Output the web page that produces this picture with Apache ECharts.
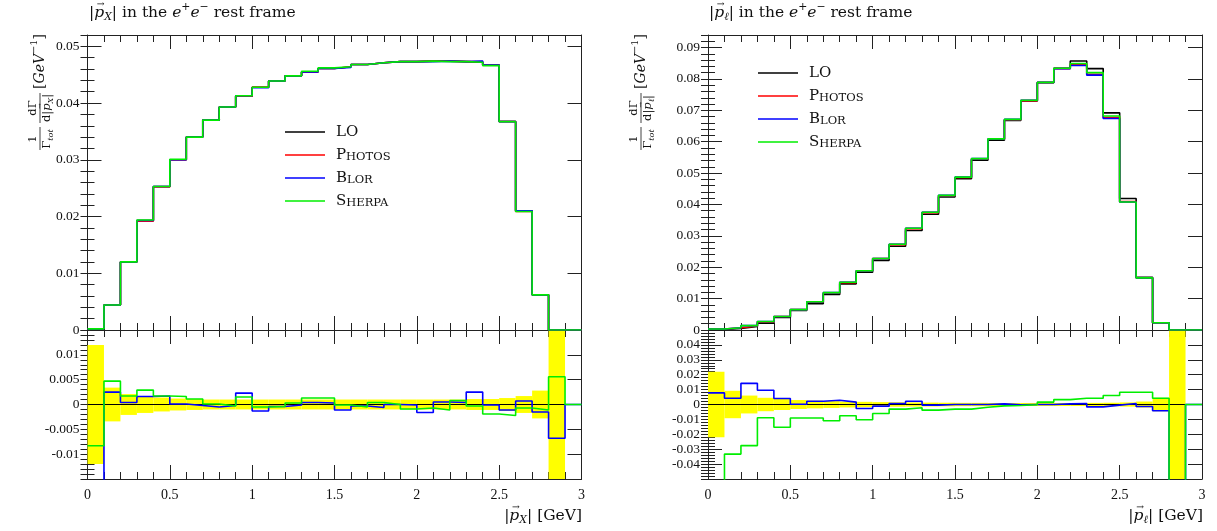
<!DOCTYPE html>
<html>
<head>
<meta charset="utf-8">
<script src="https://cdn.jsdelivr.net/npm/echarts@6/dist/echarts.min.js"></script>
<style>html,body{margin:0;padding:0;background:#fff}#c{width:1217px;height:531px}</style>
</head>
<body>
<div id="c"></div>
<script>
// ---- DATA ----
const edges = [0,0.1,0.2,0.3,0.4,0.5,0.6,0.7,0.8,0.9,1.0,1.1,1.2,1.3,1.4,1.5,1.6,1.7,1.8,1.9,2.0,2.1,2.2,2.3,2.4,2.5,2.6,2.7,2.8,2.9,3.0];
const seriesNames = ['LO','PHOTOS','BLOR','SHERPA'];
const xTicks = [0,0.5,1,1.5,2,2.5,3];

// left: |p_X| distribution
const pxLO     = [0.0002,0.0044,0.0120,0.0193,0.0253,0.0300,0.0340,0.0370,0.0393,0.0412,0.0428,0.0439,0.0448,0.0455,0.0461,0.0464,0.0468,0.0471,0.0473,0.0473,0.0474,0.0474,0.0473,0.0472,0.0467,0.0368,0.0210,0.0062,0,0];
const pxPHOTOS = [0.0002,0.0044,0.0120,0.0192,0.0252,0.0300,0.0340,0.0370,0.0393,0.0412,0.0428,0.0439,0.0448,0.0455,0.0461,0.0464,0.0468,0.0471,0.0473,0.0473,0.0474,0.0474,0.0473,0.0473,0.0467,0.0367,0.0209,0.0062,0,0];
const pxBLOR   = [0.0002,0.0044,0.0120,0.0193,0.0253,0.0300,0.0340,0.0370,0.0393,0.0413,0.0427,0.0439,0.0448,0.0455,0.0461,0.0463,0.0468,0.0471,0.0473,0.0473,0.0473,0.0474,0.0473,0.0474,0.0467,0.0367,0.0210,0.0062,0,0];
const pxSHERPA = [0.0002,0.0044,0.0120,0.0194,0.0253,0.0301,0.0340,0.0370,0.0393,0.0413,0.0428,0.0439,0.0448,0.0456,0.0462,0.0464,0.0468,0.0471,0.0473,0.0473,0.0474,0.0473,0.0473,0.0472,0.0466,0.0367,0.0209,0.0062,0,0];
// left ratio panel
const rxBand   = [0.0120,0.0034,0.0021,0.0017,0.0014,0.0012,0.0011,0.0010,0.0010,0.0010,0.0010,0.0010,0.0010,0.0010,0.0010,0.0010,0.0010,0.0010,0.0010,0.0010,0.0010,0.0010,0.0010,0.0011,0.0011,0.0013,0.0017,0.0028,0.0300,0];
const rxLO     = [0,0,0,0,0,0,0,0,0,0,0,0,0,0,0,0,0,0,0,0,0,0,0,0,0,0,0,0,0,0];
const rxBLOR   = [-0.0300,0.0025,0.0004,0.0016,0.0017,0.0001,-0.0002,-0.0005,-0.0002,0.0023,-0.0013,-0.0004,-0.0001,0.0004,0.0003,-0.0011,-0.0003,-0.0006,0,-0.0001,-0.0016,0.0005,0.0004,0.0025,-0.0001,-0.0011,0.0007,-0.0015,-0.0068,0];
const rxSHERPA = [-0.0083,0.0047,0.0017,0.0029,0.0017,0.0016,0.0011,0.0001,-0.0003,0.0015,-0.0005,-0.0004,0.0003,0.0013,0.0013,-0.0001,-0.0005,0.0004,0,-0.0009,-0.0007,-0.0011,0.0008,-0.0003,-0.0019,-0.0022,-0.0007,-0.0011,0.0056,0];

// right: |p_l| distribution
const plLO     = [0.0002,0.0005,0.0011,0.0022,0.0040,0.0062,0.0084,0.0113,0.0147,0.0184,0.0222,0.0267,0.0317,0.0369,0.0424,0.0482,0.0541,0.0605,0.0668,0.0730,0.0788,0.0834,0.0857,0.0833,0.0692,0.0419,0.0168,0.0023,0,0];
const plPHOTOS = [0.0003,0.0007,0.0013,0.0026,0.0043,0.0065,0.0089,0.0118,0.0151,0.0189,0.0228,0.0272,0.0323,0.0374,0.0428,0.0486,0.0545,0.0608,0.0670,0.0731,0.0789,0.0833,0.0845,0.0815,0.0677,0.0409,0.0166,0.0023,0,0];
const plBLOR   = [0.0003,0.0007,0.0014,0.0027,0.0043,0.0065,0.0090,0.0119,0.0152,0.0189,0.0228,0.0273,0.0324,0.0375,0.0429,0.0487,0.0546,0.0609,0.0671,0.0732,0.0789,0.0833,0.0843,0.0812,0.0674,0.0408,0.0166,0.0023,0,0];
const plSHERPA = [0.0003,0.0007,0.0014,0.0027,0.0043,0.0065,0.0090,0.0119,0.0152,0.0189,0.0228,0.0273,0.0324,0.0375,0.0429,0.0487,0.0546,0.0609,0.0671,0.0732,0.0789,0.0834,0.0849,0.0820,0.0682,0.0408,0.0166,0.0023,0,0];
// right ratio panel
const rlBand   = [0.0220,0.0092,0.0060,0.0045,0.0037,0.0030,0.0026,0.0023,0.0020,0.0018,0.0016,0.0015,0.0014,0.0013,0.0012,0.0011,0.0011,0.0010,0.0010,0.0010,0.0010,0.0010,0.0010,0.0011,0.0012,0.0014,0.0020,0.0045,0.1000,0];
const rlLO     = [0,0,0,0,0,0,0,0,0,0,0,0,0,0,0,0,0,0,0,0,0,0,0,0,0,0,0,0,0,0];
const rlBLOR   = [0.0078,0.0042,0.0142,0.0096,0.0040,0.0002,0.0022,0.0029,0.0016,-0.0027,-0.0011,0.0007,0.0022,-0.0004,0,0,0,0.0004,-0.0002,0,0,0.0004,0.0007,-0.0016,-0.0004,0.0007,-0.0013,-0.0042,-0.1000,0];
const rlSHERPA = [-0.0800,-0.0333,-0.0276,-0.0089,-0.0153,-0.0091,-0.0091,-0.0109,-0.0076,-0.0102,-0.0060,-0.0031,-0.0022,-0.0038,-0.0031,-0.0031,-0.0018,-0.0009,-0.0007,-0.0002,0.0016,0.0033,0.0042,0.0042,0.0060,0.0082,0.0082,0.0042,-0.1000,0];

// ---- CHART ----
const FN = '"Liberation Serif", "DejaVu Serif", serif';
const FT = '"DejaVu Serif", "Liberation Serif", serif';
const TXT = '#111';
const AX = '#222';
const colors = {LO:'#000000', PHOTOS:'#ff0000', BLOR:'#0000ff', SHERPA:'#00ee00'};

const grids = [
  {left: 87.5, top: 35,  width: 494, height: 295},
  {left: 87.5, top: 330, width: 494, height: 149},
  {left: 708,  top: 35,  width: 494, height: 295},
  {left: 708,  top: 330, width: 494, height: 149}
];
const yCfg = [
  {min: 0, max: 0.052, major: 0.01, minor: 0.002},
  {min: -0.015, max: 0.015, major: 0.005, minor: 0.001},
  {min: 0, max: 0.094, major: 0.01, minor: 0.002},
  {min: -0.05, max: 0.05, major: 0.01, minor: 0.002}
];
const xAxes = [], yAxes = [];
grids.forEach((g, gi) => {
  const ratio = gi % 2 === 1;
  ['bottom','top'].forEach(pos => {
    xAxes.push({
      type: 'value', gridIndex: gi, position: pos, min: 0, max: 3, interval: 0.5,
      axisLine: {show: true, onZero: false, lineStyle: {color: AX, width: 1}},
      axisTick: {show: true, inside: true, length: 14, lineStyle: {color: AX, width: 1}},
      minorTick: {show: true, splitNumber: 5, length: 7, lineStyle: {color: AX, width: 1}},
      splitLine: {show: false}, minorSplitLine: {show: false},
      axisLabel: {show: ratio && pos === 'bottom', margin: 9, color: TXT, fontFamily: FN, fontSize: 14,
        formatter: v => xTicks.indexOf(v) >= 0 ? String(v) : ''}
    });
  });
  const c = yCfg[gi];
  ['left','right'].forEach(pos => {
    yAxes.push({
      type: 'value', gridIndex: gi, position: pos, min: c.min, max: c.max, interval: c.major,
      axisLine: {show: true, onZero: false, lineStyle: {color: AX, width: 1}},
      axisTick: {show: true, inside: true, length: 14, lineStyle: {color: AX, width: 1}},
      splitLine: {show: false},
      axisLabel: {show: pos === 'left', margin: 8, color: TXT, fontFamily: FN, fontSize: 13.5,
        showMaxLabel: false, showMinLabel: !ratio}
    });
    yAxes.push({
      type: 'value', gridIndex: gi, position: pos, min: c.min, max: c.max, interval: c.minor,
      axisLine: {show: false}, axisLabel: {show: false}, splitLine: {show: false},
      axisTick: {show: true, inside: true, length: 7, lineStyle: {color: AX, width: 1}}
    });
  });
});

function stepData(vals) {
  return edges.map((x, i) => [x, vals[Math.min(i, vals.length - 1)]]);
}
function histSeries(name, vals, gi) {
  return {
    name: name, type: 'line', step: 'end', xAxisIndex: 2 * gi, yAxisIndex: 4 * gi,
    data: stepData(vals), symbol: 'none', showSymbol: false, clip: true,
    lineStyle: {color: colors[name], width: name === 'LO' && gi % 2 === 1 ? 1.2 : 1.6},
    itemStyle: {color: colors[name]}, animation: false, z: 3
  };
}
function bandSeries(vals, gi) {
  return {
    type: 'custom', xAxisIndex: 2 * gi, yAxisIndex: 4 * gi, animation: false, z: 1, silent: true,
    data: vals.map((u, i) => [edges[i], edges[i + 1], u]),
    renderItem: (params, api) => {
      const u = api.value(2);
      if (!u) return null;
      const p0 = api.coord([api.value(0), u]);
      const p1 = api.coord([api.value(1), -u]);
      const cs = params.coordSys;
      const r = echarts.graphic.clipRectByRect(
        {x: p0[0], y: p0[1], width: p1[0] - p0[0], height: p1[1] - p0[1]},
        {x: cs.x, y: cs.y, width: cs.width, height: cs.height});
      return r ? {type: 'rect', shape: r, style: {fill: '#ffff00'}} : null;
    }
  };
}

const series = [
  histSeries('LO', pxLO, 0), histSeries('PHOTOS', pxPHOTOS, 0), histSeries('BLOR', pxBLOR, 0), histSeries('SHERPA', pxSHERPA, 0),
  bandSeries(rxBand, 1), histSeries('LO', rxLO, 1), histSeries('BLOR', rxBLOR, 1), histSeries('SHERPA', rxSHERPA, 1),
  histSeries('LO', plLO, 2), histSeries('PHOTOS', plPHOTOS, 2), histSeries('BLOR', plBLOR, 2), histSeries('SHERPA', plSHERPA, 2),
  bandSeries(rlBand, 3), histSeries('LO', rlLO, 3), histSeries('BLOR', rlBLOR, 3), histSeries('SHERPA', rlSHERPA, 3)
];

const legendRich = {
  big: {fontFamily: FT, fontSize: 15, color: TXT, lineHeight: 16},
  sc: {fontFamily: FT, fontSize: 11.5, color: TXT, lineHeight: 13, verticalAlign: 'bottom'}
};
const legendFmt = n => ({LO: '{big|LO}', PHOTOS: '{big|P}{sc|HOTOS}', BLOR: '{big|B}{sc|LOR}', SHERPA: '{big|S}{sc|HERPA}'})[n];
function legend(left, top, gap) {
  return {
    data: seriesNames, orient: 'vertical', left: left, top: top, itemGap: gap,
    icon: 'rect', itemWidth: 40, itemHeight: 1.6, selectedMode: false,
    formatter: legendFmt,
    textStyle: {fontFamily: FT, fontSize: 15, color: TXT, lineHeight: 16, padding: [0, 0, 0, 6], rich: legendRich}
  };
}

// ---- math-like text layout (pieces measured with canvas) ----
const mctx = document.createElement('canvas').getContext('2d');
function fontStr(q) { return (q.it ? 'italic ' : '') + q.size + 'px ' + FT; }
function run(list, x0, y0, align, base) {
  const items = list.map(p => {
    const q = Object.assign({}, p);
    q.size = p.size || ((p.sub || p.sup) ? base * 0.7 : base);
    mctx.font = fontStr(q);
    q.w = mctx.measureText(q.t).width;
    return q;
  });
  const W = items.reduce((s, q) => s + q.w + (q.gap || 0), 0);
  let x = align === 'left' ? x0 : align === 'right' ? x0 - W : x0 - W / 2;
  const out = [];
  items.forEach(q => {
    const dy = q.sub ? base * 0.3 : q.sup ? -base * 0.38 : 0;
    out.push({type: 'text', silent: true, x: x, y: y0 + dy,
      style: {text: q.t, font: fontStr(q), fill: TXT, textAlign: 'left', textVerticalAlign: 'middle'}});
    if (q.arrow) {
      out.push({type: 'text', silent: true, x: x + q.w / 2 + base * 0.1, y: y0 + dy - base * 0.55,
        style: {text: '→', font: (base * 0.6) + 'px ' + FT, fill: TXT, textAlign: 'center', textVerticalAlign: 'middle'}});
    }
    x += q.w + (q.gap || 0);
  });
  return out;
}
function pvec(sym) {
  return [{t: '|'}, {t: 'p', it: 1, arrow: 1}, {t: sym, it: 1, sub: 1}, {t: '|'}];
}
const titleTail = [{t: ' in the '}, {t: 'e', it: 1}, {t: '+', sup: 1}, {t: 'e', it: 1}, {t: '−', sup: 1}, {t: ' rest frame'}];

function yTitle(cx, bottom, sym) {
  const ch = []
    .concat(run([{t: '1'}], 12, -7, 'center', 11.5))
    .concat([{type: 'line', silent: true, shape: {x1: 1, y1: 0, x2: 24, y2: 0}, style: {stroke: TXT, lineWidth: 0.8}}])
    .concat(run([{t: 'Γ'}, {t: 'tot', it: 1, sub: 1}], 12, 7, 'center', 11.5))
    .concat(run([{t: 'dΓ'}], 43, -7, 'center', 11.5))
    .concat([{type: 'line', silent: true, shape: {x1: 28, y1: 0, x2: 58, y2: 0}, style: {stroke: TXT, lineWidth: 0.8}}])
    .concat(run([{t: 'd'}].concat(pvec(sym)), 43, 7, 'center', 11.5))
    .concat(run([{t: '['}, {t: 'GeV', it: 1}, {t: '−1', sup: 1}, {t: ']'}], 62, 0, 'left', 14));
  return {type: 'group', x: cx, y: bottom, rotation: Math.PI / 2, silent: true, children: ch};
}

const graphic = [
  {type: 'group', x: 0, y: 0, silent: true, children: run(pvec('X').concat(titleTail), 89, 13, 'left', 15.5)},
  {type: 'group', x: 0, y: 0, silent: true, children: run(pvec('ℓ').concat(titleTail), 709, 13, 'left', 15.5)},
  {type: 'group', x: 0, y: 0, silent: true, children: run(pvec('X').concat([{t: ' [GeV]'}]), 582, 516, 'right', 15.5)},
  {type: 'group', x: 0, y: 0, silent: true, children: run(pvec('ℓ').concat([{t: ' [GeV]'}]), 1203, 516, 'right', 15.5)},
  yTitle(40, 151, 'X'),
  yTitle(641, 151, 'ℓ')
];

const chart = echarts.init(document.getElementById('c'), null, {renderer: 'canvas'});
chart.setOption({
  animation: false,
  backgroundColor: '#ffffff',
  grid: grids,
  xAxis: xAxes,
  yAxis: yAxes,
  legend: [legend(280, 119, 7), legend(753, 60, 7)],
  series: series,
  graphic: graphic
});
</script>
</body>
</html>
